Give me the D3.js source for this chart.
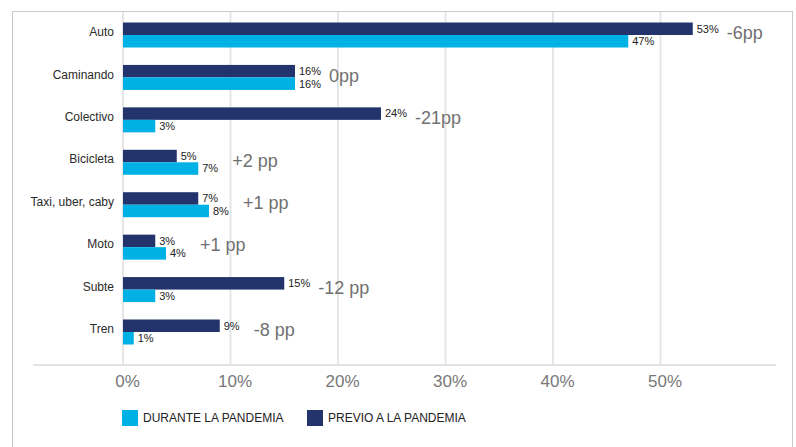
<!DOCTYPE html>
<html>
<head>
<meta charset="utf-8">
<script src="https://cdn.jsdelivr.net/npm/d3@7"></script>
<style>
  body { margin: 0; background: #fff; }
  text { font-family: "Liberation Sans", Arial, sans-serif; }
</style>
</head>
<body>
<script>
// Chart data
var categories = ["Auto", "Caminando", "Colectivo", "Bicicleta", "Taxi, uber, caby", "Moto", "Subte", "Tren"];
var previo = [53, 16, 24, 5, 7, 3, 15, 9];     // PREVIO A LA PANDEMIA
var durante = [47, 16, 3, 7, 8, 4, 3, 1];      // DURANTE LA PANDEMIA
var ppLabels = ["-6pp", "0pp", "-21pp", "+2 pp", "+1 pp", "+1 pp", "-12 pp", "-8 pp"];
var xTicks = [0, 10, 20, 30, 40, 50];

//Width and height
var w = 796;
var h = 447;

var dark = "#22346b";
var light = "#00b1e6";

var svg = d3.select("body")
    .append("svg")
    .attr("width", w)
    .attr("height", h);

//Outer frame
svg.append("rect")
    .attr("x", 12.5)
    .attr("y", 11.5)
    .attr("width", 780)
    .attr("height", 460)
    .style("fill", "none")
    .style("stroke", "#c9c9c9")
    .style("stroke-width", 1);

//Scales
var x = d3.scaleLinear()
    .domain([0, 50])
    .range([123, 660.5]);

var y = d3.scalePoint()
    .domain(categories)
    .range([35, 332]);

var sub = d3.scaleBand()
    .domain(["previo", "durante"])
    .range([-12.5, 12.5]);

//Gridlines
svg.append("g")
    .selectAll("line")
    .data(xTicks)
    .enter()
    .append("line")
    .attr("x1", function (d) { return x(d); })
    .attr("x2", function (d) { return x(d); })
    .attr("y1", 12)
    .attr("y2", 365)
    .style("stroke", "#e6e6e6")
    .style("stroke-width", 2);

//Axis baseline
svg.append("line")
    .attr("x1", 33)
    .attr("x2", 776)
    .attr("y1", 365)
    .attr("y2", 365)
    .style("stroke", "#e3e3e3")
    .style("stroke-width", 2);

//Tick labels
var xAxis = svg.append("g")
    .attr("transform", "translate(4,375)")
    .call(d3.axisBottom(x).tickValues(xTicks).tickSize(0).tickPadding(0)
        .tickFormat(function (d) { return d + "%"; }));
xAxis.select(".domain").remove();
xAxis.selectAll("text")
    .attr("dy", "0.71em")
    .style("font-family", "'Liberation Sans', Arial, sans-serif")
    .style("font-size", "17px")
    .style("fill", "#787878");

//Rows
var rows = categories.map(function (c, i) {
    return { cat: c, previo: previo[i], durante: durante[i], pp: ppLabels[i] };
});

var series = [
    { key: "previo", color: dark },
    { key: "durante", color: light }
];

series.forEach(function (s) {
    svg.append("g")
        .selectAll("rect")
        .data(rows)
        .enter()
        .append("rect")
        .attr("x", x(0))
        .attr("y", function (d) { return y(d.cat) + sub(s.key); })
        .attr("width", function (d) { return x(d[s.key]) - x(0); })
        .attr("height", sub.bandwidth())
        .style("fill", s.color);

    svg.append("g")
        .selectAll("text")
        .data(rows)
        .enter()
        .append("text")
        .attr("x", function (d) { return x(d[s.key]) + 4; })
        .attr("y", function (d) { return y(d.cat) + sub(s.key) + sub.bandwidth() / 2; })
        .attr("dy", "0.35em")
        .style("font-size", "11px")
        .style("fill", "#222")
        .text(function (d) { return d[s.key] + "%"; });
});

//Category labels
svg.append("g")
    .selectAll("text")
    .data(rows)
    .enter()
    .append("text")
    .attr("x", 114)
    .attr("y", function (d) { return y(d.cat) - 3; })
    .attr("dy", "0.35em")
    .attr("text-anchor", "end")
    .style("font-size", "12px")
    .style("fill", "#2a2a2a")
    .text(function (d) { return d.cat; });

//Difference labels
svg.append("g")
    .selectAll("text")
    .data(rows)
    .enter()
    .append("text")
    .attr("x", function (d) { return x(Math.max(d.previo, d.durante)) + 34; })
    .attr("y", function (d) { return y(d.cat) - 2; })
    .attr("dy", "0.35em")
    .style("font-size", "18px")
    .style("fill", "#707070")
    .text(function (d) { return d.pp; });

//Legend
var legend = [
    { label: "DURANTE LA PANDEMIA", color: light, x: 122 },
    { label: "PREVIO A LA PANDEMIA", color: dark, x: 307 }
];

var lg = svg.append("g")
    .selectAll("g")
    .data(legend)
    .enter()
    .append("g")
    .attr("transform", function (d) { return "translate(" + d.x + ",410)"; });

lg.append("rect")
    .attr("width", 16)
    .attr("height", 16)
    .style("fill", function (d) { return d.color; });

lg.append("text")
    .attr("x", 21)
    .attr("y", 8)
    .attr("dy", "0.35em")
    .style("font-size", "12px")
    .style("fill", "#222")
    .text(function (d) { return d.label; });
</script>
</body>
</html>
